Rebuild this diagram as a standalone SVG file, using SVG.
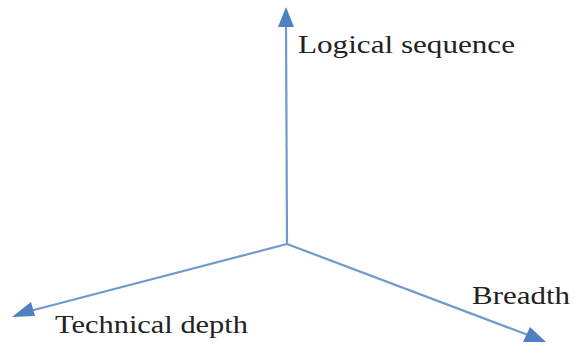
<svg xmlns="http://www.w3.org/2000/svg" width="575" height="345" viewBox="0 0 575 345">
<style>
.ax{stroke:#7199cc;stroke-width:2.2;fill:none}
.hd{fill:#4f80c2}
.lb{font-family:"Liberation Serif","DejaVu Serif",serif;font-size:25px;fill:#222}
</style>
<rect width="575" height="345" fill="#fff"/>
<g id="connectors">
<line class="ax" x1="287" y1="244" x2="286" y2="22"/>
<polygon class="hd" points="286,7 278,27 294,27"/>
<line class="ax" x1="287" y1="244" x2="30" y2="311"/>
<polygon class="hd" points="12,317 31,302 35,316"/>
<line class="ax" x1="287" y1="244" x2="528" y2="335"/>
<polygon class="hd" points="546,342 523,342 530,327"/>
</g>
<g id="logical"><text class="lb" x="298" y="53" textLength="217" lengthAdjust="spacingAndGlyphs">Logical  sequence</text></g>
<g id="technical"><text class="lb" x="55" y="333" textLength="193" lengthAdjust="spacingAndGlyphs">Technical depth</text></g>
<g id="breadth"><text class="lb" x="472" y="304" textLength="98" lengthAdjust="spacingAndGlyphs">Breadth</text></g>
</svg>
